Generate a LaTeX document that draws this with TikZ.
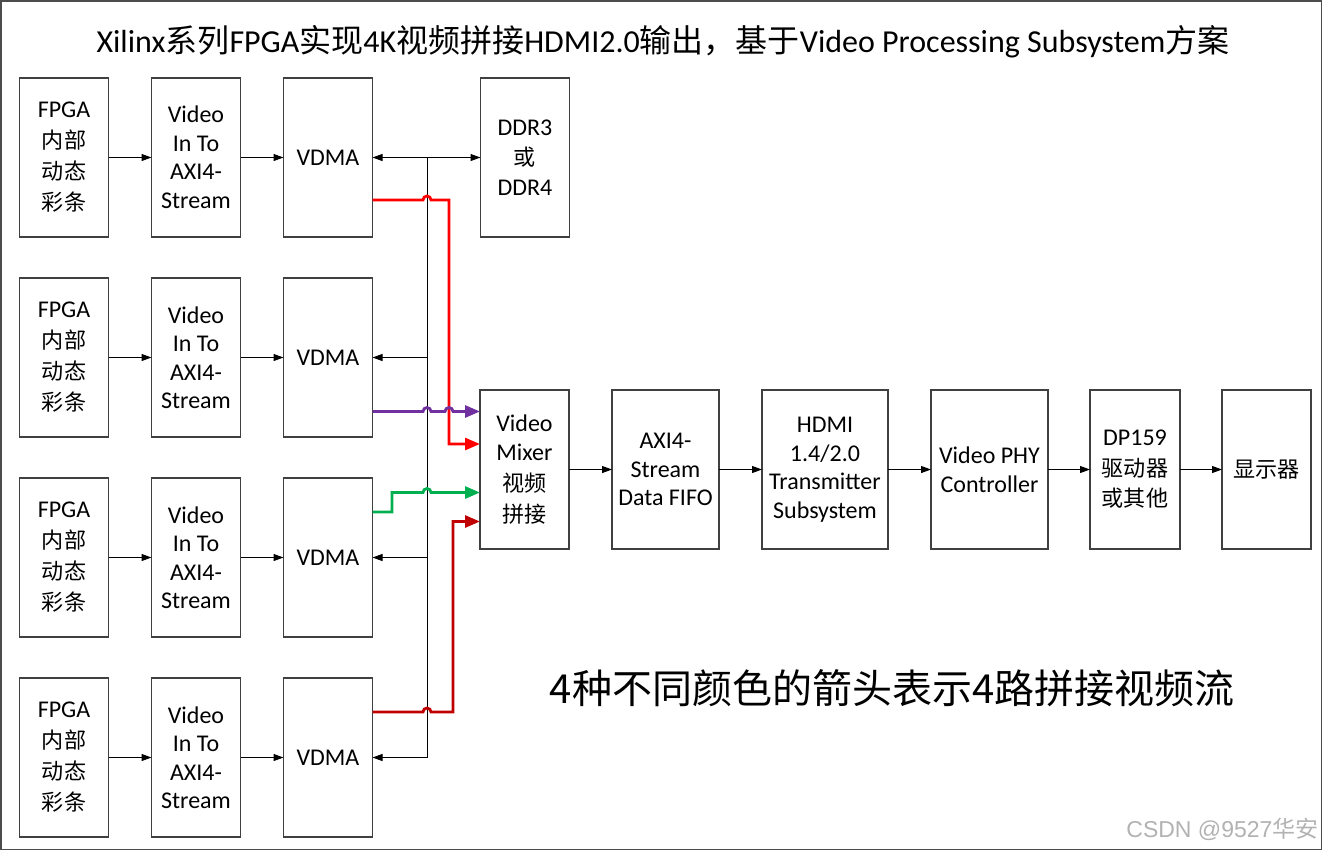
\documentclass[tikz,border=0pt]{standalone}
\usepackage{fontspec}
\setmainfont{Carlito}
\newfontfamily\zh{Noto Sans CJK SC}[Scale=0.92]
\newfontfamily\zhtitle{Noto Sans CJK SC}
\newfontfamily\wmfont{Liberation Sans}
\usetikzlibrary{arrows.meta,positioning}
\definecolor{flowred}{HTML}{FF0000}
\definecolor{flowpurple}{HTML}{7030A0}
\definecolor{flowgreen}{HTML}{00B050}
\definecolor{flowdark}{HTML}{C00000}
\begin{document}
\begin{tikzpicture}[x=1pt,y=-1pt,
	blk/.style={draw=black!75, line width=1.3pt, minimum width=89pt, minimum height=159pt,
		inner sep=0pt, outer sep=0pt, align=center, font=\fontsize{24}{28.5}\selectfont},
	zhblk/.style={blk, font=\fontsize{24}{31}\selectfont},
	arr/.style={-{Triangle[length=10pt,width=7pt]}, line width=1pt},
	flow/.style={line width=2.8pt, -{Triangle[length=15pt,width=12pt]}},
	node distance=43pt]
	\useasboundingbox (0,0) rectangle (1327,852);
	\draw[black!70, line width=1.5pt] (0.75,0.75) rectangle (1321.5,849.5);
	\node (title) at (663,42) {\fontsize{32}{36}\selectfont Xilinx{\zhtitle 系列}FPGA{\zhtitle 实现}4K{\zhtitle 视频拼接}HDMI2.0{\zhtitle 输出，基于}Video Processing Subsystem{\zhtitle 方案}};
	% four source rows
	\foreach \r in {1,...,4} {
		\node[zhblk] (fpga\r) at (64,{157.5+200*(\r-1)}) {FPGA\\{\zh 内部}\\{\zh 动态}\\{\zh 彩条}};
		\node[blk, right=of fpga\r] (conv\r) {Video\\In To\\AXI4-\\Stream};
		\node[blk, right=of conv\r] (vdma\r) {VDMA};
		\draw[arr] (fpga\r) -- (conv\r);
		\draw[arr] (conv\r) -- (vdma\r);
	}
	\node[zhblk, font=\fontsize{24}{30}\selectfont, right=108pt of vdma1] (ddr) {DDR3\\{\zh 或}\\DDR4};
	% output chain
	\node[blk] (mix) at (524.5,469.5) {Video\\Mixer\\[2.5pt]{\zh 视频}\\[2.5pt]{\zh 拼接}};
	\node[blk, minimum width=107pt, right=of mix] (fifo) {AXI4-\\Stream\\Data FIFO};
	\node[blk, minimum width=126pt, right=of fifo] (hdmi) {HDMI\\1.4/2.0\\Transmitter\\Subsystem};
	\node[blk, minimum width=117pt, right=of hdmi] (phy) {Video PHY\\Controller};
	\node[zhblk, font=\fontsize{24}{30.5}\selectfont, minimum width=90pt, right=42pt of phy] (dp) {DP159\\{\zh 驱动器}\\{\zh 或其他}};
	\node[blk, right=42pt of dp] (disp) {{\zh 显示器}};
	\draw[arr] (mix) -- (fifo);
	\draw[arr] (fifo) -- (hdmi);
	\draw[arr] (hdmi) -- (phy);
	\draw[arr] (phy) -- (dp);
	\draw[arr] (dp) -- (disp);
	% memory bus
	\coordinate (bus) at (427,157.5);
	\draw[{Triangle[length=10pt,width=7pt]}-{Triangle[length=10pt,width=7pt]}, line width=1pt] (vdma1) -- (ddr);
	\draw[line width=1pt] (bus) -- (bus |- vdma4);
	\foreach \r in {2,3,4}
		\draw[arr] (bus |- vdma\r) -- (vdma\r);
	% four video streams
	\draw[flow, flowred] (vdma1.east |- 0,200) -- (423,200) arc[start angle=180, end angle=0, radius=4pt]
		-- (449,200) -- (449,444) -- (mix.west |- 0,444);
	\draw[flow, flowpurple] (vdma2.east |- 0,411.5) -- (423,411.5) arc[start angle=180, end angle=0, radius=4pt]
		-- (445,411.5) arc[start angle=180, end angle=0, radius=4pt] -- (mix.west |- 0,411.5);
	\draw[flow, flowgreen] (vdma3.east |- 0,512) -- (392,512) -- (392,492.5) -- (423,492.5)
		arc[start angle=180, end angle=0, radius=4pt] -- (mix.west |- 0,492.5);
	\draw[flow, flowdark] (vdma4.east |- 0,712) -- (423,712) arc[start angle=180, end angle=0, radius=4pt]
		-- (453,712) -- (453,521.5) -- (mix.west |- 0,521.5);
	\node (note) at (892,688) {\zhtitle\fontsize{40}{44}\selectfont 4种不同颜色的箭头表示4路拼接视频流};
	\node[text=black!30, anchor=east] (wm) at (1322,829) {\wmfont\fontsize{23}{26}\selectfont CSDN @9527{\zhtitle 华安}};
\end{tikzpicture}
\end{document}
